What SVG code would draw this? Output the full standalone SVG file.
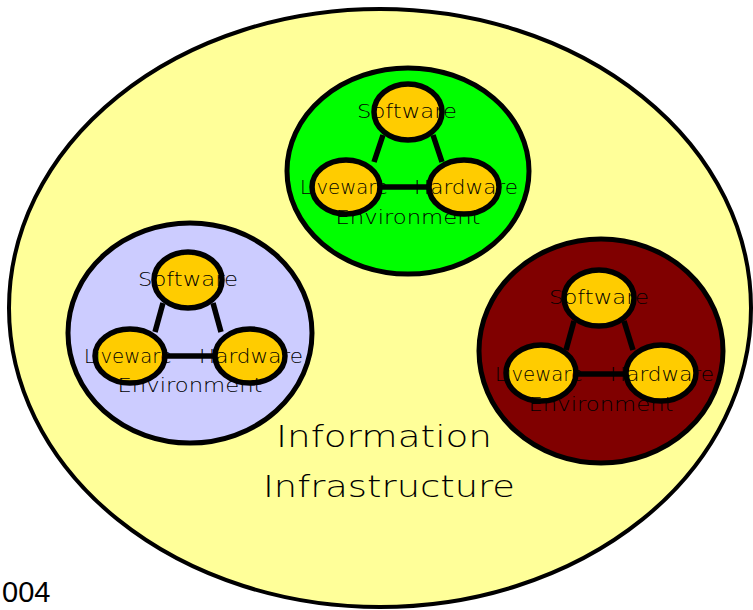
<svg xmlns="http://www.w3.org/2000/svg" width="753" height="610" viewBox="0 0 753 610">
<style>
.big{fill:#FFFF99;stroke:#000;stroke-width:4}
.env{stroke:#000;stroke-width:5}
.node{fill:#FFCC00;stroke:#000;stroke-width:5.5}
.link{stroke:#000;stroke-width:5.5;fill:none}
.lbl{font-family:"DejaVu Sans","Liberation Sans",sans-serif;font-weight:300;font-size:19px;fill:#000;text-anchor:middle}
.title{font-family:"DejaVu Sans","Liberation Sans",sans-serif;font-weight:300;font-size:30px;fill:#000;text-anchor:middle}
</style>
<rect width="753" height="610" fill="#fff"/>
<g id="infrastructure">
<ellipse class="big" cx="380" cy="308" rx="371" ry="299"/>
</g>
<g id="env-green"><ellipse class="env" cx="408" cy="171" rx="121" ry="103" fill="#00FF00"/></g>
<g id="env-blue"><ellipse class="env" cx="190" cy="333" rx="122" ry="110" fill="#CCCCFF"/></g>
<g id="env-red"><ellipse class="env" cx="601" cy="351" rx="122" ry="112" fill="#800000"/></g>
<g id="connectors">
<line class="link" x1="383" y1="135" x2="374" y2="162"/>
<line class="link" x1="433" y1="135" x2="442" y2="162"/>
<line class="link" x1="380" y1="187" x2="428" y2="187"/>
<line class="link" x1="163" y1="303" x2="155" y2="332"/>
<line class="link" x1="213" y1="303" x2="221" y2="332"/>
<line class="link" x1="164" y1="356" x2="216" y2="356"/>
<line class="link" x1="574" y1="321" x2="566" y2="350"/>
<line class="link" x1="624" y1="321" x2="633" y2="350"/>
<line class="link" x1="575" y1="374" x2="628" y2="374"/>
</g>
<g id="cluster-green">
<ellipse class="node" cx="408" cy="112" rx="34" ry="28"/>
<ellipse class="node" cx="346" cy="187" rx="34" ry="27"/>
<ellipse class="node" cx="464" cy="187" rx="35" ry="27"/>
<text class="lbl" x="407" y="118" textLength="100" lengthAdjust="spacingAndGlyphs">Software</text>
<text class="lbl" x="344" y="194" textLength="88" lengthAdjust="spacingAndGlyphs">Liveware</text>
<text class="lbl" x="466" y="194" textLength="104" lengthAdjust="spacingAndGlyphs">Hardware</text>
<text class="lbl" x="408" y="224" textLength="145" lengthAdjust="spacingAndGlyphs">Environment</text>
</g>
<g id="cluster-blue">
<ellipse class="node" cx="188" cy="280" rx="34" ry="28"/>
<ellipse class="node" cx="130" cy="356" rx="35" ry="27"/>
<ellipse class="node" cx="250" cy="356" rx="35" ry="27"/>
<text class="lbl" x="188" y="286" textLength="100" lengthAdjust="spacingAndGlyphs">Software</text>
<text class="lbl" x="128" y="363" textLength="88" lengthAdjust="spacingAndGlyphs">Liveware</text>
<text class="lbl" x="251" y="363" textLength="104" lengthAdjust="spacingAndGlyphs">Hardware</text>
<text class="lbl" x="190" y="392" textLength="145" lengthAdjust="spacingAndGlyphs">Environment</text>
</g>
<g id="cluster-red">
<ellipse class="node" cx="599" cy="298" rx="35" ry="28"/>
<ellipse class="node" cx="541" cy="373" rx="35" ry="28"/>
<ellipse class="node" cx="661" cy="373" rx="35" ry="28"/>
<text class="lbl" x="599" y="304" textLength="100" lengthAdjust="spacingAndGlyphs">Software</text>
<text class="lbl" x="539" y="381" textLength="88" lengthAdjust="spacingAndGlyphs">Liveware</text>
<text class="lbl" x="662" y="381" textLength="104" lengthAdjust="spacingAndGlyphs">Hardware</text>
<text class="lbl" x="601" y="411" textLength="145" lengthAdjust="spacingAndGlyphs">Environment</text>
</g>
<g id="title">
<text class="title" x="384" y="447" textLength="216" lengthAdjust="spacingAndGlyphs">Information</text>
<text class="title" x="389" y="497" textLength="252" lengthAdjust="spacingAndGlyphs">Infrastructure</text>
</g>
<text x="2" y="602" font-family="Liberation Sans, Arial, sans-serif" font-size="29" fill="#000">004</text>
</svg>
